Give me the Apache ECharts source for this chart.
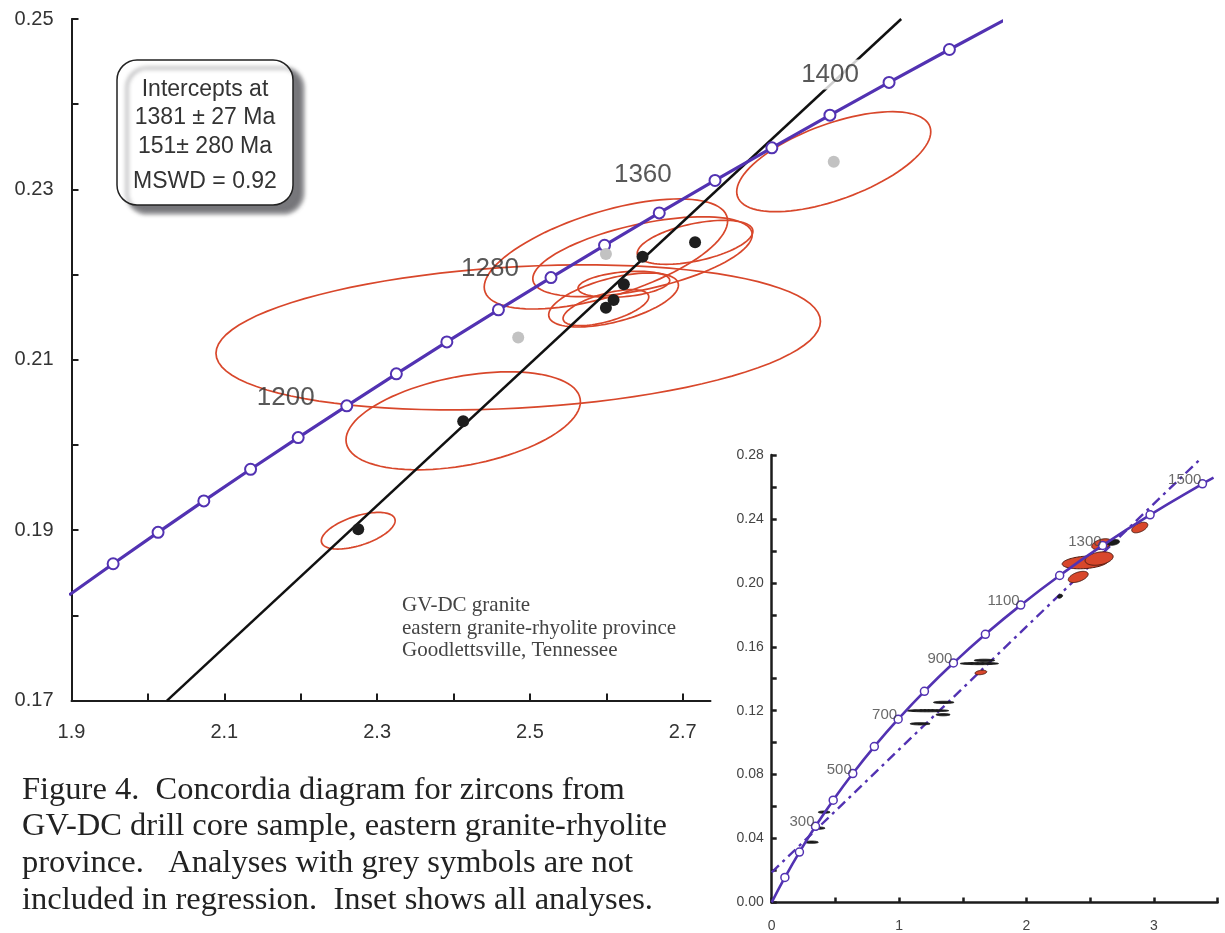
<!DOCTYPE html>
<html>
<head>
<meta charset="utf-8">
<script src="https://cdn.jsdelivr.net/npm/echarts@6/dist/echarts.min.js"></script>
<style>
  html, body { margin: 0; padding: 0; background: #fff; }
  #chart { width: 1225px; height: 933px; }
</style>
</head>
<body>
<div id="chart"></div>
<script>
// ---------- Concordia, main panel (ages in Ma, 207Pb/235U, 206Pb/238U) ----------
const mainAges = [1080, 1100, 1120, 1140, 1160, 1180, 1200, 1220, 1240, 1260, 1280, 1300, 1320, 1340, 1360, 1380, 1400, 1420, 1440];
const mainPb207U235 = [1.8969, 1.9545, 2.0133, 2.0732, 2.1344, 2.1967, 2.2603, 2.3252, 2.3913, 2.4588, 2.5276, 2.5977, 2.6693, 2.7423, 2.8167, 2.8927, 2.9701, 3.0491, 3.1296];
const mainPb206U238 = [0.18239, 0.18606, 0.18975, 0.19344, 0.19715, 0.20087, 0.20460, 0.20835, 0.21210, 0.21587, 0.21965, 0.22344, 0.22724, 0.23105, 0.23488, 0.23871, 0.24256, 0.24642, 0.25030];
const mainLabelAges = [1200, 1280, 1360, 1400];

// Discordia regression line (two end points)
const discordiaX = [2.025, 2.986];
const discordiaY = [0.170, 0.250];

// Analyses: black = used in regression, grey = excluded
const blackX = [2.2753, 2.4127, 2.5995, 2.6095, 2.6230, 2.6474, 2.7162];
const blackY = [0.1901, 0.2028, 0.21612, 0.21702, 0.21886, 0.22210, 0.22379];
const greyX = [2.4847, 2.5995, 2.8977];
const greyY = [0.21263, 0.22242, 0.23325];

// Error ellipses: centre, half-extent in x and y, correlation
const ellX   = [2.2753, 2.4127, 2.4847, 2.8977, 2.5995, 2.6474, 2.7162, 2.6230, 2.6095, 2.5995];
const ellY   = [0.18994, 0.20284, 0.21263, 0.23325, 0.22242, 0.22210, 0.22379, 0.21886, 0.21702, 0.21612];
const ellSx  = [0.0483, 0.1534, 0.3956, 0.1270, 0.1593, 0.1436, 0.0757, 0.0600, 0.0849, 0.0561];
const ellSy  = [0.00215, 0.00575, 0.00851, 0.00587, 0.00646, 0.00469, 0.00258, 0.00153, 0.00317, 0.00211];
const ellRho = [0.55, 0.39, 0.22, 0.60, 0.60, 0.55, 0.50, 0.30, 0.55, 0.60];

// ---------- Inset: all analyses ----------
const insetAges = [0, 100, 200, 300, 400, 500, 600, 700, 800, 900, 1000, 1100, 1200, 1300, 1400, 1500, 1520];
const insetPb207U235 = [0, 0.1035, 0.2177, 0.3437, 0.4828, 0.6363, 0.8056, 0.9925, 1.1987, 1.4263, 1.6774, 1.9545, 2.2603, 2.5977, 2.9701, 3.3810, 3.4682];
const insetPb206U238 = [0, 0.01563, 0.03151, 0.04764, 0.06402, 0.08065, 0.09754, 0.11470, 0.13213, 0.14983, 0.16780, 0.18606, 0.20460, 0.22344, 0.24256, 0.26198, 0.26590];
const insetLabelAges = [300, 500, 700, 900, 1100, 1300, 1500];
const insetDiscordiaX = [0, 3.362];
const insetDiscordiaY = [0.0188, 0.2773];

// filled ellipses
const inRedX   = [2.460, 2.570, 2.590, 2.406, 2.889, 1.642];
const inRedY   = [0.2128, 0.2152, 0.2242, 0.2037, 0.2346, 0.1439];
const inRedSx  = [0.180, 0.110, 0.078, 0.078, 0.063, 0.046];
const inRedSy  = [0.0040, 0.0042, 0.0034, 0.0035, 0.0033, 0.0014];
const inRedRho = [0.25, 0.30, 0.40, 0.50, 0.50, 0.30];
// very flat (low-ratio) analyses and small dark ellipses
const inBarX   = [1.630, 1.670, 1.225, 1.350, 1.165, 1.345, 0.412, 0.366, 0.3135, 2.680, 2.263];
const inBarY   = [0.1495, 0.1515, 0.1200, 0.1252, 0.1118, 0.1175, 0.0565, 0.0465, 0.0377, 0.2253, 0.1916];
const inBarSx  = [0.150, 0.080, 0.164, 0.080, 0.078, 0.055, 0.046, 0.052, 0.052, 0.050, 0.020];
const inBarSy  = [0.0007, 0.0007, 0.0007, 0.0007, 0.0007, 0.0007, 0.0007, 0.0007, 0.0007, 0.0018, 0.0012];
const inBarRho = [0, 0, 0, 0, 0, 0, 0, 0, 0, 0.3, 0.3];

// ---------- helpers ----------
const zip = (a, b) => a.map((v, i) => [v, b[i]]);
const ellRows = (x, y, sx, sy, r) => x.map((v, i) => [v, y[i], sx[i], sy[i], r[i]]);

function ellipseOutline(cx, cy, sx, sy, rho) {
  const k = Math.sqrt(1 - rho * rho), pts = [];
  for (let i = 0; i < 96; i++) {
    const t = 2 * Math.PI * i / 96;
    pts.push([cx + sx * Math.cos(t), cy + sy * (rho * Math.cos(t) + k * Math.sin(t))]);
  }
  return pts;
}
function ellipseSeries(name, xi, yi, rows, style, z) {
  return {
    name, type: 'custom', xAxisIndex: xi, yAxisIndex: yi, z, data: rows,
    encode: { x: 0, y: 1 },
    renderItem(params, api) {
      const pts = ellipseOutline(api.value(0), api.value(1), api.value(2), api.value(3), api.value(4))
        .map(p => api.coord(p));
      return { type: 'polygon', shape: { points: pts }, style };
    }
  };
}

const PURPLE = '#5232b2', RED = '#d8472b', INK = '#1c1c1c';
const SANS = '"Liberation Sans", Arial, sans-serif';
const SERIF = '"Liberation Serif", "Times New Roman", serif';

// Main panel geometry: 764 px per unit in x, 8520 px per unit in y
const PX = 764, PY = 8520, L = 71.5, T = 19;
const yH = 0.08 * PY;

const mainLabelOffsets = { 1200: [-61, -8], 1280: [-61, -9], 1360: [-129, 27], 1400: [-59, -8] };
const mainLabelData = mainLabelAges.map(a => {
  const i = mainAges.indexOf(a);
  const item = {
    value: [mainPb207U235[i], mainPb206U238[i], a],
    label: { offset: mainLabelOffsets[a] }
  };
  if (a === 1400) { item.label.backgroundColor = '#fff'; item.label.padding = [2, 2]; }
  return item;
});

const mainCurve = mainAges.map((a, i) => [mainPb207U235[i], mainPb206U238[i]]);
const insetCurve = insetAges.map((a, i) => {
  const d = { value: [insetPb207U235[i], insetPb206U238[i]] };
  if (a === 0 || a === 1520) d.symbol = 'none';
  return d;
});
const insetLabelData = insetLabelAges.map(a => {
  const i = insetAges.indexOf(a);
  return [insetPb207U235[i], insetPb206U238[i], a];
});

const axisLineStyle = { color: INK, width: 2 };
const tickStyle = { color: INK, width: 2 };

const chart = echarts.init(document.getElementById('chart'), null, { renderer: 'canvas' });
chart.setOption({
  animation: false,
  backgroundColor: '#fff',
  grid: [
    // 0: x axis line of the main panel
    { left: L, top: T, width: 0.8364 * PX, height: yH, containLabel: false, outerBoundsMode: 'none' },
    // 1: ticks and labels of the main panel
    { left: L, top: T, width: 0.8 * PX, height: yH, containLabel: false, outerBoundsMode: 'none' },
    // 2: data area of the main panel
    { left: L, top: T, width: 1.216 * PX, height: yH, containLabel: false, outerBoundsMode: 'none' },
    // 3: inset
    { left: 771.7, top: 455, width: 3.5 * 127.4, height: 0.28 * 1598, containLabel: false, outerBoundsMode: 'none' }
  ],
  xAxis: [
    { gridIndex: 0, type: 'value', min: 1.9, max: 2.7364,
      axisLine: { show: true, onZero: false, lineStyle: axisLineStyle },
      axisTick: { show: false }, axisLabel: { show: false }, splitLine: { show: false } },
    { gridIndex: 1, type: 'value', min: 1.9, max: 2.7, interval: 0.1,
      axisLine: { show: false, onZero: false },
      axisTick: { show: true, inside: true, length: 7, lineStyle: tickStyle },
      axisLabel: { margin: 22, fontFamily: SANS, fontSize: 20, color: '#333',
        formatter: v => (Math.round(v * 10) % 2 === 1 ? v.toFixed(1) : '') },
      splitLine: { show: false } },
    { gridIndex: 2, type: 'value', min: 1.9, max: 3.116, show: false },
    { gridIndex: 3, type: 'value', min: 0, max: 3.5, interval: 0.5,
      axisLine: { show: true, onZero: false, lineStyle: { color: INK, width: 2.5 } },
      axisTick: { show: true, inside: true, length: 5, lineStyle: { color: INK, width: 2.5 } },
      axisLabel: { margin: 17, fontFamily: SANS, fontSize: 14, color: '#444',
        formatter: v => (Math.abs(v - Math.round(v)) < 1e-6 ? String(Math.round(v)) : '') },
      splitLine: { show: false } }
  ],
  yAxis: [
    { gridIndex: 0, type: 'value', min: 0.17, max: 0.25, show: false },
    { gridIndex: 1, type: 'value', min: 0.17, max: 0.25, interval: 0.01,
      axisLine: { show: true, onZero: false, lineStyle: axisLineStyle },
      axisTick: { show: true, inside: true, length: 7, lineStyle: tickStyle },
      axisLabel: { margin: 18, fontFamily: SANS, fontSize: 20, color: '#333',
        formatter: v => (Math.round(v * 100) % 2 === 1 ? v.toFixed(2) : '') },
      splitLine: { show: false } },
    { gridIndex: 2, type: 'value', min: 0.17, max: 0.25, show: false },
    { gridIndex: 3, type: 'value', min: 0, max: 0.28, interval: 0.02,
      axisLine: { show: true, onZero: false, lineStyle: { color: INK, width: 2.5 } },
      axisTick: { show: true, inside: true, length: 5, lineStyle: { color: INK, width: 2.5 } },
      axisLabel: { margin: 8, fontFamily: SANS, fontSize: 14, color: '#444',
        formatter: v => (Math.round(v * 100) % 4 === 0 ? v.toFixed(2) : '') },
      splitLine: { show: false } }
  ],
  series: [
    // ----- main panel -----
    ellipseSeries('ellipses', 2, 2, ellRows(ellX, ellY, ellSx, ellSy, ellRho),
      { fill: 'none', stroke: RED, lineWidth: 1.7 }, 2),
    { name: 'discordia', type: 'line', xAxisIndex: 2, yAxisIndex: 2, z: 3,
      data: zip(discordiaX, discordiaY), symbol: 'none',
      lineStyle: { color: '#111', width: 2.5 } },
    { name: 'concordia', type: 'line', xAxisIndex: 2, yAxisIndex: 2, z: 4,
      data: mainCurve, clip: true, showAllSymbol: true,
      symbol: 'circle', symbolSize: 11,
      lineStyle: { color: PURPLE, width: 3.2 },
      itemStyle: { color: '#fff', borderColor: PURPLE, borderWidth: 2 } },
    { name: 'excluded', type: 'scatter', xAxisIndex: 2, yAxisIndex: 2, z: 5,
      data: zip(greyX, greyY), symbolSize: 12, itemStyle: { color: '#c2c2c2', opacity: 1 } },
    { name: 'regressed', type: 'scatter', xAxisIndex: 2, yAxisIndex: 2, z: 5,
      data: zip(blackX, blackY), symbolSize: 12, itemStyle: { color: '#1e1e1e', opacity: 1 } },
    { name: 'ageLabels', type: 'scatter', xAxisIndex: 2, yAxisIndex: 2, z: 6,
      data: mainLabelData, symbolSize: 0, silent: true,
      label: { show: true, position: 'inside', formatter: p => String(p.value[2]),
        fontFamily: SANS, fontSize: 26, color: '#2e2e2e' } },

    // ----- inset -----
    { name: 'insetDiscordia', type: 'line', xAxisIndex: 3, yAxisIndex: 3, z: 3,
      data: zip(insetDiscordiaX, insetDiscordiaY), symbol: 'none',
      lineStyle: { color: PURPLE, width: 2.4, type: [10, 5, 3, 5] } },
    ellipseSeries('insetEllipses', 3, 3, ellRows(inRedX, inRedY, inRedSx, inRedSy, inRedRho),
      { fill: RED, stroke: '#4a1a10', lineWidth: 1 }, 4),
    ellipseSeries('insetFlat', 3, 3, ellRows(inBarX, inBarY, inBarSx, inBarSy, inBarRho),
      { fill: '#1a1a1a', stroke: '#1a1a1a', lineWidth: 1 }, 4),
    { name: 'insetConcordia', type: 'line', xAxisIndex: 3, yAxisIndex: 3, z: 5,
      data: insetCurve, smooth: true, showAllSymbol: true,
      symbol: 'circle', symbolSize: 8,
      lineStyle: { color: PURPLE, width: 2.6 },
      itemStyle: { color: '#fff', borderColor: PURPLE, borderWidth: 1.5 } },
    { name: 'insetAgeLabels', type: 'scatter', xAxisIndex: 3, yAxisIndex: 3, z: 6,
      data: insetLabelData, symbolSize: 0, silent: true,
      label: { show: true, position: 'left', distance: 1, offset: [0, -4],
        formatter: p => String(p.value[2]), fontFamily: SANS, fontSize: 15, color: '#444' } }
  ],
  graphic: [
    { type: 'rect', z: 50,
      shape: { x: 117, y: 60, width: 176, height: 145, r: 20 },
      style: { fill: '#fff', stroke: '#222', lineWidth: 1.5,
        shadowColor: 'rgba(95,95,100,0.85)', shadowOffsetX: 10, shadowOffsetY: 8, shadowBlur: 4 } },
    { type: 'text', z: 51, x: 205, y: 90,  style: { text: 'Intercepts at', font: '23px ' + SANS, fill: '#333', align: 'center', verticalAlign: 'middle' } },
    { type: 'text', z: 51, x: 205, y: 118, style: { text: '1381 \u00b1 27 Ma', font: '23px ' + SANS, fill: '#333', align: 'center', verticalAlign: 'middle' } },
    { type: 'text', z: 51, x: 205, y: 147, style: { text: '151\u00b1 280 Ma', font: '23px ' + SANS, fill: '#333', align: 'center', verticalAlign: 'middle' } },
    { type: 'text', z: 51, x: 205, y: 182, style: { text: 'MSWD = 0.92', font: '23px ' + SANS, fill: '#333', align: 'center', verticalAlign: 'middle' } },

    { type: 'text', z: 51, x: 402, y: 605, style: { text: 'GV-DC granite', font: '21px ' + SERIF, fill: '#444', align: 'left', verticalAlign: 'middle' } },
    { type: 'text', z: 51, x: 402, y: 628, style: { text: 'eastern granite-rhyolite province', font: '21px ' + SERIF, fill: '#444', align: 'left', verticalAlign: 'middle' } },
    { type: 'text', z: 51, x: 402, y: 650, style: { text: 'Goodlettsville, Tennessee', font: '21px ' + SERIF, fill: '#444', align: 'left', verticalAlign: 'middle' } },

    { type: 'text', z: 51, x: 22, y: 790, style: { text: 'Figure 4.  Concordia diagram for zircons from', font: '32.5px ' + SERIF, fill: '#222', align: 'left', verticalAlign: 'middle' } },
    { type: 'text', z: 51, x: 22, y: 826, style: { text: 'GV-DC drill core sample, eastern granite-rhyolite', font: '32.5px ' + SERIF, fill: '#222', align: 'left', verticalAlign: 'middle' } },
    { type: 'text', z: 51, x: 22, y: 863, style: { text: 'province.   Analyses with grey symbols are not', font: '32.5px ' + SERIF, fill: '#222', align: 'left', verticalAlign: 'middle' } },
    { type: 'text', z: 51, x: 22, y: 900, style: { text: 'included in regression.  Inset shows all analyses.', font: '32.5px ' + SERIF, fill: '#222', align: 'left', verticalAlign: 'middle' } }
  ]
});
</script>
</body>
</html>
